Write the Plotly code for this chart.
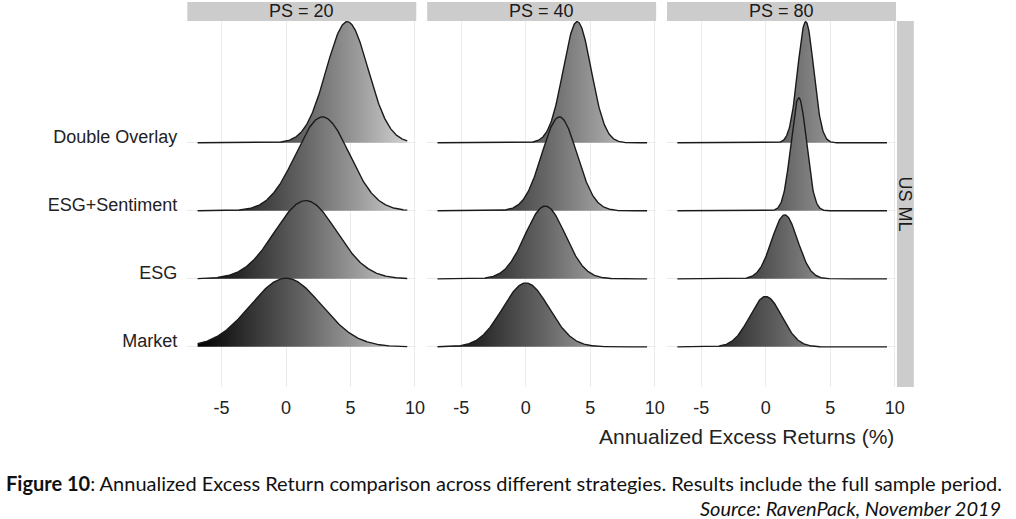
import numpy as np
import plotly.graph_objects as go

W, H = 1016, 519

strategies = ["Market", "ESG", "ESG+Sentiment", "Double Overlay"]
panels = ["PS = 20", "PS = 40", "PS = 80"]
row_strip = "US ML"
x_ticks = [-5, 0, 5, 10]
x_title = "Annualized Excess Returns (%)"

# ridge centre, spread and peak height (row units), order = strategies
ps20_mean = [0.0, 1.53, 2.83, 4.75]
ps20_sd = [2.75, 2.39, 2.08, 1.62]
ps20_height = [1.01, 1.15, 1.38, 1.78]

ps40_mean = [0.0, 1.5, 2.6, 3.98]
ps40_sd = [1.8, 1.55, 1.36, 1.08]
ps40_height = [0.94, 1.07, 1.38, 1.78]

ps80_mean = [0.0, 1.47, 2.56, 3.1]
ps80_sd = [1.25, 1.0, 0.6, 0.62]
ps80_height = [0.74, 0.94, 1.66, 1.78]

# extent of the estimated densities
x_lo, x_hi = -6.85, 9.4

caption = ("<b>Figure 10</b>: Annualized Excess Return comparison across different "
           "strategies. Results include the full sample period.")
source = "<i>Source: RavenPack, November 2019</i>"

panel_data = [
    (ps20_mean, ps20_sd, ps20_height),
    (ps40_mean, ps40_sd, ps40_height),
    (ps80_mean, ps80_sd, ps80_height),
]

grad = [[0, "#000000"], [0.25, "#333333"], [0.5, "#646464"],
        [0.75, "#999999"], [1, "#d3d3d3"]]


def px(v):
    return v / W


def py(v):
    return 1 - v / H


panel_left = [189, 431, 673]
panel_w = 231
top, bottom = 21, 387

fig = go.Figure()
xs = np.linspace(x_lo, x_hi, 400)

for p, (mu, sd, hgt) in enumerate(panel_data):
    sfx = "" if p == 0 else str(p + 1)
    # top ridge first so the lower ones are drawn over it
    for k in reversed(range(len(strategies))):
        base = k + 1
        ys = base + hgt[k] * np.exp(-0.5 * ((xs - mu[k]) / sd[k]) ** 2)
        fig.add_scatter(
            x=list(xs) + [x_hi, x_lo], y=list(ys) + [base, base],
            fill="toself", mode="lines", line=dict(width=0),
            fillgradient=dict(type="horizontal", colorscale=grad,
                              start=x_lo, stop=x_hi),
            xaxis="x" + sfx, yaxis="y" + sfx, hoverinfo="skip",
        )
        fig.add_scatter(
            x=xs, y=ys, mode="lines", line=dict(color="#1a1a1a", width=1.4),
            xaxis="x" + sfx, yaxis="y" + sfx, name=strategies[k],
        )

layout = dict(
    width=W, height=H, margin=dict(l=0, r=0, t=0, b=0),
    plot_bgcolor="white", paper_bgcolor="white", showlegend=False,
    hovermode=False,
    font=dict(family="Liberation Sans, Arial", color="#222222"),
)

for p in range(3):
    sfx = "" if p == 0 else str(p + 1)
    layout["xaxis" + sfx] = dict(
        domain=[px(panel_left[p]), px(panel_left[p] + panel_w)],
        range=[-7.65, 10.1], tickvals=x_ticks, ticktext=[str(t) for t in x_ticks],
        showgrid=True, gridcolor="#ebebeb", gridwidth=1, zeroline=False,
        showline=False, ticks="", tickfont=dict(size=18, color="#222222"),
        ticklabelstandoff=8, anchor="y" + sfx,
    )
    layout["yaxis" + sfx] = dict(
        domain=[py(bottom), py(top)], range=[0.41, 5.79],
        tickvals=[1, 2, 3, 4], ticktext=strategies,
        showticklabels=(p == 0), showgrid=True, gridcolor="#ebebeb",
        zeroline=False, showline=False, ticks="",
        tickfont=dict(size=18, color="#222222"),
        ticklabelshift=-6, ticklabelstandoff=9, anchor="x" + sfx,
    )

fig.update_layout(**layout)

shapes = []
annotations = []
for p, name in enumerate(panels):
    x0, x1 = panel_left[p], panel_left[p] + panel_w
    shapes.append(dict(type="rect", xref="paper", yref="paper",
                       x0=px(x0), x1=px(x1), y0=py(top), y1=py(2),
                       fillcolor="#cccccc", line=dict(width=0), layer="below"))
    annotations.append(dict(text=name, xref="paper", yref="paper",
                            x=px((x0 + x1) / 2), y=py(11.5), showarrow=False,
                            xanchor="center", yanchor="middle",
                            font=dict(size=18, color="#1a1a1a")))

shapes.append(dict(type="rect", xref="paper", yref="paper",
                   x0=px(905), x1=px(922), y0=py(bottom), y1=py(top),
                   fillcolor="#cccccc", line=dict(width=0), layer="below"))
annotations.append(dict(text=row_strip, xref="paper", yref="paper",
                        x=px(913.5), y=py(204), showarrow=False, textangle=90,
                        xanchor="center", yanchor="middle",
                        font=dict(size=18, color="#1a1a1a")))

annotations.append(dict(text=x_title, xref="paper", yref="paper",
                        x=px(904), y=py(436), showarrow=False,
                        xanchor="right", yanchor="middle",
                        font=dict(size=21, color="#222222")))

annotations.append(dict(text=caption, xref="paper", yref="paper",
                        x=px(4), y=py(483), showarrow=False,
                        xanchor="left", yanchor="middle",
                        font=dict(family="Lato", size=20, color="#111111")))
annotations.append(dict(text=source, xref="paper", yref="paper",
                        x=px(1012), y=py(508), showarrow=False,
                        xanchor="right", yanchor="middle",
                        font=dict(family="Lato", size=20, color="#111111")))

fig.update_layout(shapes=shapes, annotations=annotations)

# drop the page's default body margin so the figure sits at the window corner
fig.write_html("out.html", config={"displayModeBar": False},
               post_script="document.body.style.margin='0';")
